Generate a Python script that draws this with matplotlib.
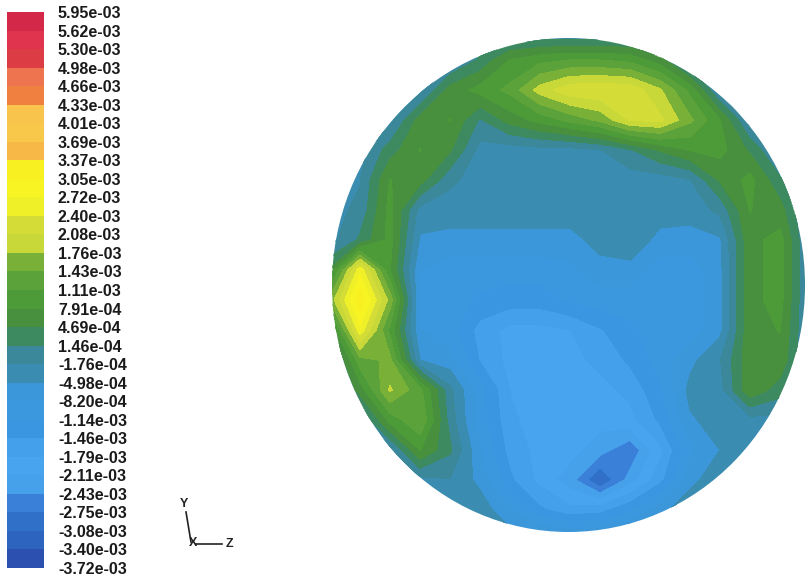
import matplotlib.pyplot as plt
import numpy as np
from matplotlib.cm import ScalarMappable
from matplotlib.colors import BoundaryNorm, ListedColormap
from matplotlib.patches import Ellipse

# contour levels (bottom -> top) as printed on the legend
level_labels = [
    '-3.72e-03', '-3.40e-03', '-3.08e-03', '-2.75e-03', '-2.43e-03',
    '-2.11e-03', '-1.79e-03', '-1.46e-03', '-1.14e-03', '-8.20e-04',
    '-4.98e-04', '-1.76e-04', '1.46e-04', '4.69e-04', '7.91e-04',
    '1.11e-03', '1.43e-03', '1.76e-03', '2.08e-03', '2.40e-03',
    '2.72e-03', '3.05e-03', '3.37e-03', '3.69e-03', '4.01e-03',
    '4.33e-03', '4.66e-03', '4.98e-03', '5.30e-03', '5.62e-03',
    '5.95e-03',
]

# one colour per band, bottom -> top
band_colors = [
    '#2c50b0', '#2c64c0', '#3070c8', '#3a80d8', '#46a0ea',
    '#48a4ee', '#44a0ea', '#3a96e0', '#3c98de', '#3c96da',
    '#3a8cb0', '#3a889a', '#3e8a60', '#48903e', '#4c9a38',
    '#5ca23a', '#78b038', '#c8d838', '#d4dc38', '#f0f028',
    '#f8f424', '#f8f020', '#f8b848', '#f8c84a', '#f8c44c',
    '#f08040', '#ee7450', '#dc3c44', '#e0344e', '#d42848',
]

# sample points of the section (screen coords), values in 1e-3
grid_x = [330, 360, 390, 420, 450, 480, 510, 540, 570, 600, 630, 660, 690, 720, 750, 780, 810]
grid_y = [30, 60, 90, 120, 150, 180, 210, 240, 270, 300, 330, 360, 390, 420, 450, 480, 510, 540]
R = -0.3
field = [
    [R] * 17,
    [R, R, R, R, R, 0.2, 0.8, 1.0, 1.1, 1.1, 1.0, 0.6, R, R, R, R, R],
    [R, R, R, R, 0.6, 0.9, 1.2, 1.9, 2.3, 2.35, 2.3, 1.8, 1.0, R, R, R, R],
    [R, R, R, 0.6, 0.8, 0.1, 0.6, 0.9, 1.2, 1.5, 2.1, 2.15, 1.5, 0.8, R, R, R],
    [R, R, 0.3, 0.8, 0.5, -0.3, -0.35, -0.3, -0.3, -0.2, 0.1, 0.5, 0.8, 0.9, 0.4, R, R],
    [R, -0.2, 0.8, 0.6, -0.1, -0.35, -0.35, -0.35, -0.35, -0.35, -0.35, -0.35, -0.2, 0.5, 0.9, 0.2, R],
    [R, -0.1, 0.9, -0.3, -0.35, -0.35, -0.35, -0.35, -0.35, -0.35, -0.35, -0.35, -0.35, -0.1, 0.8, 0.6, R],
    [R, 0.2, 0.9, -0.55, -0.6, -0.6, -0.6, -0.6, -0.6, -0.4, -0.3, -0.6, -0.65, -0.55, 0.7, 0.9, R],
    [0.5, 2.6, 0.8, -0.8, -1.0, -1.0, -1.0, -1.0, -0.9, -0.6, -0.6, -1.0, -1.0, -0.6, 0.7, 0.9, R],
    [1.5, 3.3, 1.6, -0.9, -1.0, -1.2, -1.3, -1.3, -1.1, -1.0, -1.0, -1.0, -1.0, -0.6, 0.7, 0.9, R],
    [0.3, 2.6, 1.0, -0.8, -1.0, -1.6, -1.9, -1.9, -1.8, -1.5, -1.2, -1.0, -1.0, -0.6, 0.7, 0.8, R],
    [R, 1.3, 1.5, -0.5, -0.7, -1.5, -1.9, -2.0, -1.9, -1.7, -1.4, -1.0, -0.6, -0.2, 0.7, 0.7, R],
    [R, 0.6, 1.8, 1.2, -0.1, -1.0, -1.8, -2.0, -2.0, -1.9, -1.7, -1.2, -0.4, -0.3, 0.7, 0.3, R],
    [R, R, 0.9, 1.4, 0.0, -1.0, -1.7, -2.0, -2.0, -2.0, -1.9, -1.4, -0.55, -0.35, -0.3, R, R],
    [R, R, R, 0.8, 0.2, -0.8, -1.6, -1.9, -2.0, -2.3, -2.7, -1.9, -0.9, -0.5, R, R, R],
    [R, R, R, R, -0.2, -0.6, -1.4, -1.9, -2.3, -3.1, -2.3, -1.6, -0.6, R, R, R, R],
    [R, R, R, R, R, -0.3, -0.8, -1.4, -1.7, -1.6, -1.2, -0.6, R, R, R, R, R],
    [R] * 17,
]

levels = np.array([float(s) for s in level_labels])
cmap = ListedColormap(band_colors)
norm = BoundaryNorm(levels, cmap.N)

fig = plt.figure(figsize=(8.07, 5.76), dpi=100)
ax = fig.add_axes([0, 0, 1, 1])
ax.set_xlim(0, 807)
ax.set_ylim(576, 0)
ax.axis('off')

Z = np.array(field) * 1e-3
cs = ax.contourf(grid_x, grid_y, Z, levels=levels, cmap=cmap, norm=norm)
cs.set_edgecolor('face')
cs.set_linewidth(0.4)

disc = Ellipse((568.5, 285), 473, 494, facecolor='none', edgecolor='none',
               transform=ax.transData)
ax.add_patch(disc)
cs.set_clip_path(disc)

# colour legend
cax = fig.add_axes([7 / 807, 1 - 568 / 576, 37 / 807, 556 / 576])
cb = fig.colorbar(ScalarMappable(norm=norm, cmap=cmap), cax=cax)
cb.outline.set_visible(False)
cb.set_ticks(levels, labels=level_labels)
cax.tick_params(length=0, pad=10)
for t in cax.get_yticklabels():
    t.set_fontfamily('Liberation Sans')
    t.set_fontweight('bold')
    t.set_fontsize(11.5)
    t.set_color('#1a1a1a')

# view axes triad
ax.plot([186, 191], [512, 542], color='#222222', lw=1.2)
ax.plot([196, 222], [544, 544], color='#222222', lw=1.2)
tri_font = dict(fontfamily='Liberation Sans', fontweight='bold', fontsize=9,
                color='#222222', ha='center', va='center')
ax.text(184, 504, 'Y', **tri_font)
ax.text(193, 543, 'X', **tri_font)
ax.text(229, 544, 'Z', **tri_font)

fig.savefig('out.png', dpi=100, facecolor='white')
